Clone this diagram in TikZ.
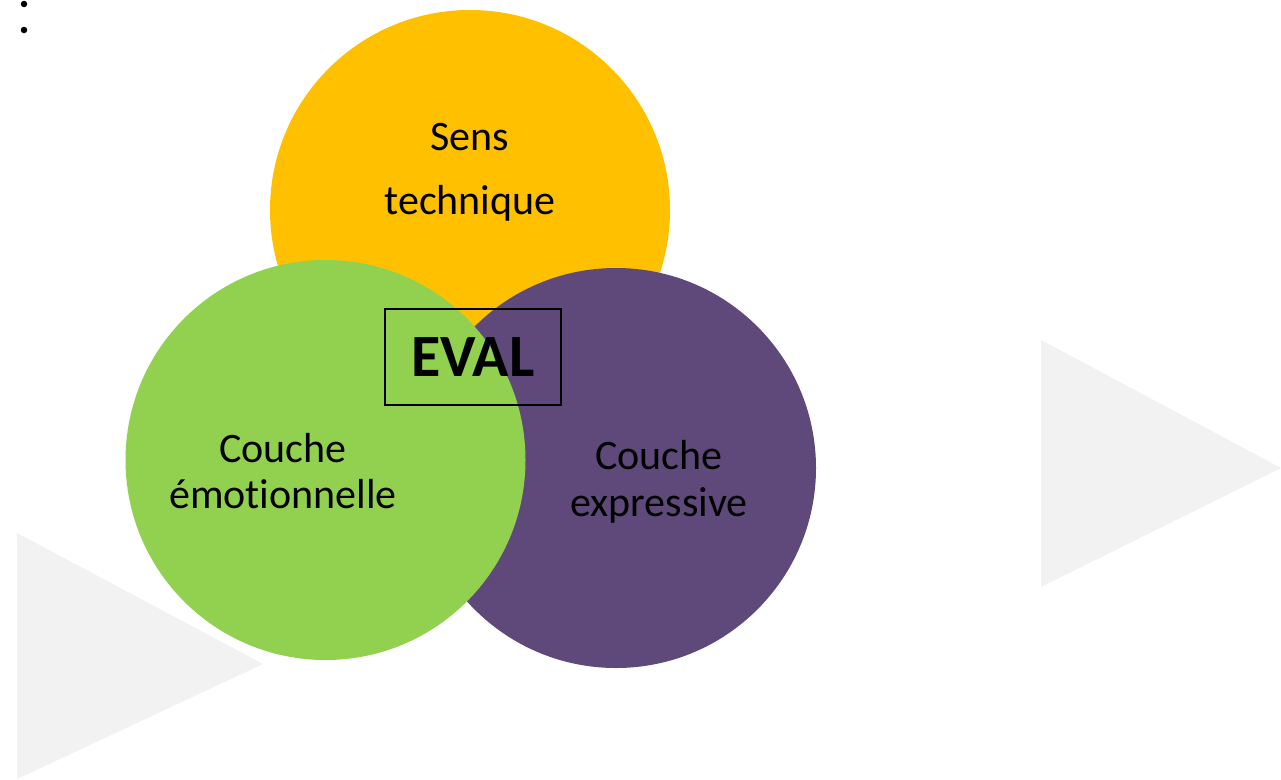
\documentclass[tikz,border=0pt]{standalone}
\usepackage{fontspec}
\setmainfont{Carlito}[Ligatures=NoCommon]
\definecolor{cyellow}{HTML}{FFC000}
\definecolor{cgreen}{HTML}{92D050}
\definecolor{cpurple}{HTML}{5F497A}
\definecolor{cgray}{HTML}{F2F2F2}
\begin{document}
\begin{tikzpicture}[x=1pt,y=-1pt,
  tri/.style={fill=cgray,draw=none},
  disc/.style={circle,minimum size=400pt,inner sep=0pt,draw=none},
  dotmark/.style={circle,fill=black,minimum size=6.5pt,inner sep=0pt,draw=none},
  lbl/.style={font=\fontsize{42}{42}\selectfont,anchor=base,inner sep=0pt,text=black},
  evalbox/.style={draw=black,line width=1.3pt,minimum width=176pt,minimum height=96pt,inner sep=0pt,font=\fontsize{60}{60}\selectfont\bfseries}
]
\useasboundingbox (0,0) rectangle (1281,779);
\fill[white] (0,0) rectangle (1281,779);
% background triangles
\fill[tri] (1041,340) -- (1281,468) -- (1041,587) -- cycle;
\fill[tri] (17,533) -- (263,664) -- (17,779) -- cycle;
% dots
\node[dotmark] (d1) at (24,4) {};
\node[dotmark] (d2) at (24,30) {};
% circles
\node[disc,fill=cyellow] (sens) at (470,210) {};
\node[disc,fill=cpurple] (expr) at (616,468) {};
\node[disc,fill=cgreen] (emo) at (325.5,460) {};
% texts
\node[lbl] (t1) at (470,150) {Sens};
\node[lbl] (t2) at (470,214) {technique};
\node[lbl] (e1) at (283,462) {Couche};
\node[lbl] (e2) at (283,508) {émotionnelle};
\node[lbl] (x1) at (659,469) {Couche};
\node[lbl] (x2) at (659,516) {expressive};
% EVAL
\node[evalbox] (eval) at (473,357) {EVAL};
\end{tikzpicture}
\end{document}
